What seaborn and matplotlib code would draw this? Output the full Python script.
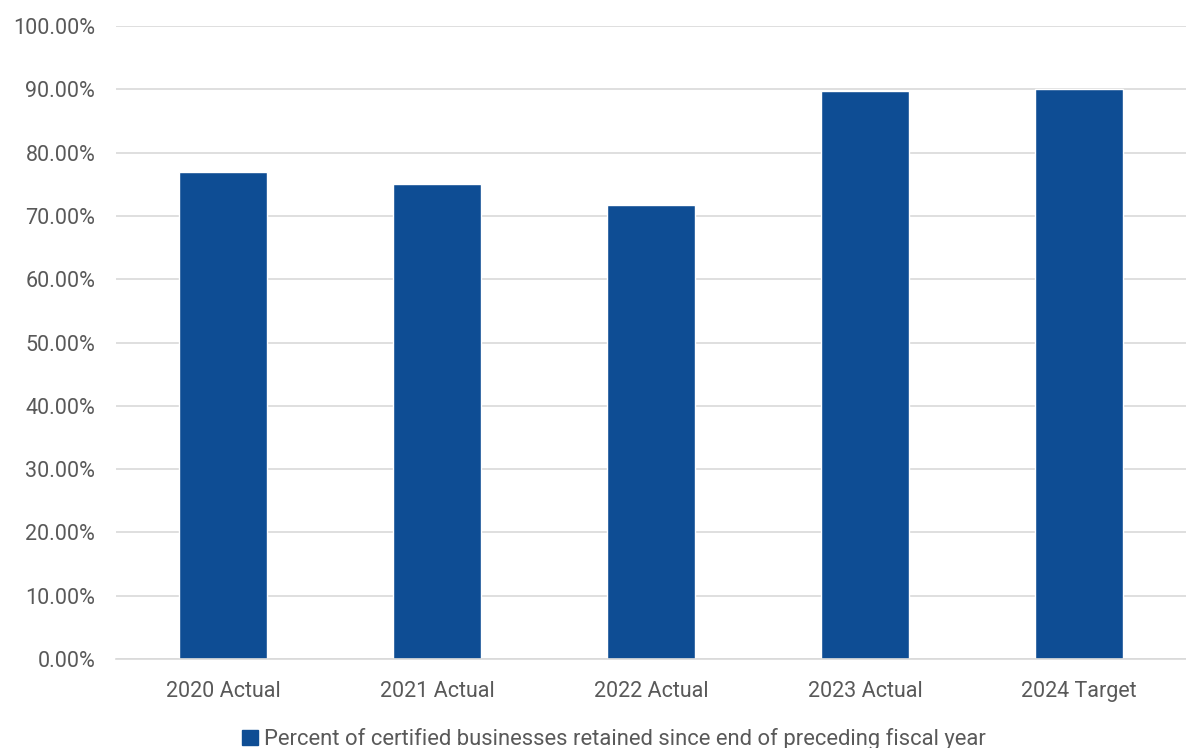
import matplotlib
matplotlib.use("Agg")
import matplotlib.pyplot as plt
import seaborn as sns
import pandas as pd
from matplotlib.patches import Patch
from matplotlib.ticker import FuncFormatter, MultipleLocator

categories = ["2020 Actual", "2021 Actual", "2022 Actual", "2023 Actual", "2024 Target"]
values = [77.0, 75.0, 71.8, 89.8, 90.0]
series_name = "Percent of certified businesses retained since end of preceding fiscal year"

sns.set_theme(style="white")
plt.rcParams['font.family'] = ['Roboto', 'DejaVu Sans']

df = pd.DataFrame({"cat": categories, "val": values})
fig = plt.figure(figsize=(11.86, 7.48), dpi=100)
ax = fig.add_axes([0.0978, 0.119, 0.9022, 0.846])
color = "#0E4D94"
sns.barplot(data=df, x="cat", y="val", color=color, width=0.41, ax=ax, saturation=1)

ax.set_ylim(0, 100)
ax.yaxis.set_major_locator(MultipleLocator(10))
ax.yaxis.set_major_formatter(FuncFormatter(lambda v, p: f"{v:.2f}%"))
ax.grid(axis="y", color="#D9D9D9", linewidth=1.2)
ax.set_axisbelow(True)
for s in ["top", "right", "left"]:
    ax.spines[s].set_visible(False)
ax.spines["bottom"].set_color("#D9D9D9")
ax.spines["bottom"].set_linewidth(1.2)
ax.set_xlabel("")
ax.set_ylabel("")
ax.tick_params(axis="both", length=0, labelsize=15.5, colors="#595959")
ax.tick_params(axis="x", pad=16)
ax.tick_params(axis="y", pad=15)

fig.legend(handles=[Patch(color=color, label=series_name)], loc="center",
           bbox_to_anchor=(0.518, 0.012), frameon=False, fontsize=15.8,
           handlelength=0.7, handleheight=0.7, handletextpad=0.3, labelcolor="#595959")
fig.savefig("out.png", dpi=100)
